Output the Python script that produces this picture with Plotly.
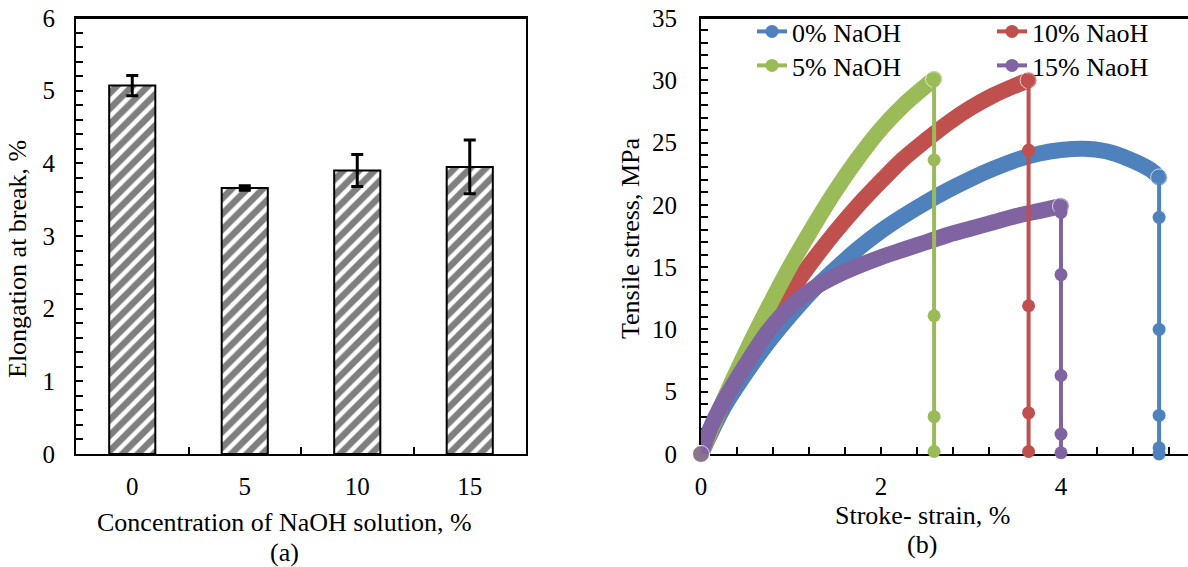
import plotly.graph_objects as go

# ---------------- data ----------------
# (a) Elongation at break
conc = ["0", "5", "10", "15"]
elong = [5.07, 3.66, 3.90, 3.95]
elong_err = [0.14, 0.03, 0.22, 0.37]

# (b) Stress-strain curves
strain_0 = [0, 0.25, 0.5, 0.75, 1.0, 1.25, 1.5, 1.75, 2.0, 2.25, 2.5, 2.75, 3.0,
            3.25, 3.5, 3.75, 4.0, 4.25, 4.5, 4.75, 5.0, 5.09]
stress_0 = [0, 3.7, 6.5, 9.0, 11.2, 13.2, 14.9, 16.5, 17.9, 19.1, 20.2, 21.2, 22.1,
            22.9, 23.6, 24.1, 24.4, 24.5, 24.3, 23.7, 22.8, 22.2]
drop_0 = [22.2, 19.0, 10.0, 3.1, 0.5, 0.0]

strain_10 = [0, 0.25, 0.5, 0.75, 1.0, 1.25, 1.5, 1.75, 2.0, 2.25, 2.5, 2.75, 3.0,
             3.25, 3.5, 3.64]
stress_10 = [0, 4.2, 7.6, 10.5, 13.1, 15.6, 17.9, 20.0, 21.9, 23.7, 25.2, 26.6, 27.8,
             28.8, 29.6, 30.0]
drop_10 = [30.0, 24.4, 11.9, 3.3, 0.2]

strain_5 = [0, 0.25, 0.5, 0.75, 1.0, 1.25, 1.5, 1.75, 2.0, 2.25, 2.59]
stress_5 = [0, 4.3, 8.2, 11.8, 15.2, 18.3, 21.2, 23.8, 26.1, 28.0, 30.1]
drop_5 = [30.1, 23.6, 11.1, 3.0, 0.2]

strain_15 = [0, 0.1, 0.25, 0.5, 0.75, 1.0, 1.25, 1.5, 1.75, 2.0, 2.25, 2.5, 2.75,
             3.0, 3.25, 3.5, 3.75, 4.0]
stress_15 = [0, 2.0, 4.2, 7.2, 9.9, 11.9, 13.3, 14.3, 15.1, 15.8, 16.4, 17.0, 17.6,
             18.1, 18.6, 19.1, 19.5, 19.9]
drop_15 = [19.9, 19.4, 14.4, 6.3, 1.6, 0.1]

series = [
    ("0% NaOH", strain_0, stress_0, drop_0, "#4F81BD", "legend"),
    ("10% NaoH", strain_10, stress_10, drop_10, "#C0504D", "legend2"),
    ("5% NaOH", strain_5, stress_5, drop_5, "#9BBB59", "legend3"),
    ("15% NaoH", strain_15, stress_15, drop_15, "#8064A2", "legend4"),
]

# ---------------- layout helpers ----------------
W, H = 1188, 567
def px(x): return x / W
def py(y): return 1 - y / H

FONT = "Times New Roman, Liberation Serif, serif"
TOP, BOT = 18, 454

fig = go.Figure()

# ---- (a) bars ----
fig.add_trace(go.Bar(
    x=conc, y=elong, width=0.41,
    marker=dict(color="white", line=dict(color="black", width=2),
                pattern=dict(shape="/", fgcolor="black", bgcolor="white",
                             size=11, solidity=0.6)),
    error_y=dict(type="data", array=elong_err, visible=True,
                 color="black", thickness=3, width=6),
    xaxis="x", yaxis="y", showlegend=False,
))

# ---- (b) thick curves ----
for name, sx, sy, dr, col, lg in series:
    sizes = [0] * len(sx)
    sizes[0] = 17
    sizes[-1] = 17
    fig.add_trace(go.Scatter(
        x=sx, y=sy, mode="lines+markers",
        line=dict(color=col, width=16, shape="spline", smoothing=0.8),
        marker=dict(color=col, size=sizes),
        xaxis="x2", yaxis="y2", showlegend=False, cliponaxis=False,
    ))

# ---- (b) drops with markers (legend entries) ----
for name, sx, sy, dr, col, lg in series:
    fig.add_trace(go.Scatter(
        x=[sx[-1]] * len(dr), y=dr, mode="lines+markers", name=name,
        line=dict(color=col, width=4),
        marker=dict(color=col, size=13),
        xaxis="x2", yaxis="y2", legend=lg, cliponaxis=False,
    ))

axis_common = dict(showline=True, linecolor="black", linewidth=2, showgrid=False,
                   zeroline=False, ticks="inside", ticklen=7, tickwidth=2,
                   tickcolor="black", ticklabeloverflow="allow",
                   tickfont=dict(family=FONT, size=25, color="black"))

fig.update_layout(
    width=W, height=H, margin=dict(l=0, r=0, t=0, b=0, autoexpand=False),
    paper_bgcolor="white", plot_bgcolor="white",
    xaxis=dict(domain=[px(76), px(526)], anchor="y", type="category",
               tickson="boundaries", mirror=True, ticklabelstandoff=9,
               **axis_common),
    yaxis=dict(domain=[py(BOT), py(TOP)], anchor="x", range=[0, 6], dtick=1,
               mirror=True, ticklabelstandoff=14,
               minor=dict(dtick=0.2, ticks="inside", ticklen=7, tickwidth=2,
                          tickcolor="black"),
               **axis_common),
    xaxis2=dict(domain=[px(701), 1.0], anchor="y2", range=[0, (1188 - 701) / 90.0],
                dtick=2, tick0=0, mirror=True, layer="below traces",
                ticklabelstandoff=9,
                minor=dict(dtick=0.4, ticks="inside", ticklen=7, tickwidth=2,
                           tickcolor="black"),
                **axis_common),
    yaxis2=dict(domain=[py(BOT), py(TOP)], anchor="x2", range=[0, 35], dtick=5,
                layer="below traces", ticklabelstandoff=17,
                minor=dict(dtick=1, ticks="inside", ticklen=7, tickwidth=2,
                           tickcolor="black"),
                **axis_common),
)

# top frame lines of both panels
for xr, yr in (("x domain", "y domain"), ("x2 domain", "y2 domain")):
    fig.add_shape(type="line", xref=xr, yref=yr, x0=0, x1=1, y0=1, y1=1,
                  line=dict(color="black", width=2), layer="above")

leg_common = dict(bgcolor="rgba(0,0,0,0)", xanchor="left", yanchor="top",
                  font=dict(family=FONT, size=26, color="black"))
fig.update_layout(
    legend=dict(x=px(752), y=py(8), **leg_common),
    legend2=dict(x=px(992), y=py(8), **leg_common),
    legend3=dict(x=px(752), y=py(42), **leg_common),
    legend4=dict(x=px(992), y=py(42), **leg_common),
)

def ann(text, x, y, angle=0):
    fig.add_annotation(text=text, x=px(x), y=py(y), xref="paper", yref="paper",
                       showarrow=False, textangle=angle, xanchor="center",
                       yanchor="middle",
                       font=dict(family=FONT, size=26, color="black"))

ann("Elongation at break, %", 17, 259, -90)
ann("Concentration of NaOH solution, %", 284, 522)
ann("(a)", 284, 552)
ann("Tensile stress, MPa", 630, 238, -90)
ann("Stroke- strain, %", 922, 515)
ann("(b)", 922, 544)

fig.write_html("out.html",
               config={"displayModeBar": False},
               post_script="document.body.style.margin='0px';")
